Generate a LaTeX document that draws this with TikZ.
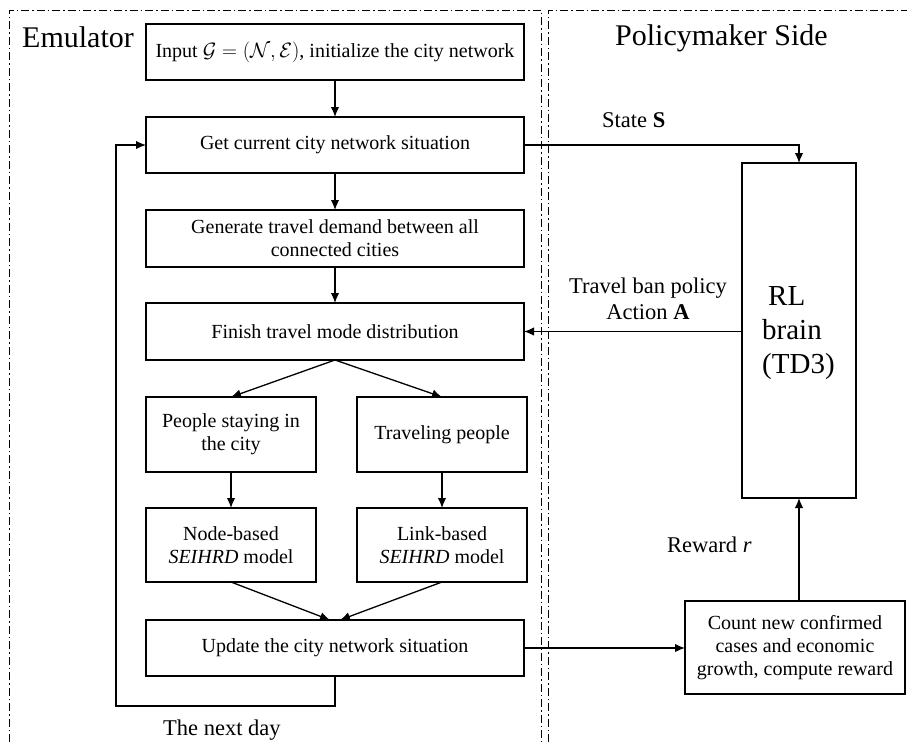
\documentclass[tikz,border=0pt]{standalone}
\usepackage{fontspec}
\setmainfont{Liberation Serif}
\usetikzlibrary{arrows.meta}
\begin{document}
\begin{tikzpicture}[x=1pt,y=-1pt,
  box/.style={draw, line width=1.3pt, align=center, inner sep=0pt, outer sep=0pt, font=\fontsize{20}{23}\selectfont},
  arr/.style={line width=1.3pt, -{Latex[length=10pt,width=8.5pt]}},
  border/.style={line width=1pt, dash pattern=on 8pt off 3pt on 1.5pt off 3pt},
  lbl/.style={font=\fontsize{22.5}{26}\selectfont, inner sep=0pt, anchor=base west},
  title/.style={font=\fontsize{30}{34}\selectfont, inner sep=0pt, anchor=base west}]
\useasboundingbox (0,0) rectangle (907,742);
% region borders
\draw[border] (9,742) -- (9,10) -- (541,10) -- (541,742);
\draw[border] (548,742) -- (548,10) -- (907,10);
% titles
\node[title] (emu) at (22,47) {Emulator};
\node[title] (pol) at (615,45) {Policymaker Side};
% boxes
\node[box, minimum width=378pt, minimum height=56pt] (input) at (335,52) {Input $\mathcal{G}=(\mathcal{N},\mathcal{E})$, initialize the city network};
\node[box, minimum width=378pt, minimum height=56pt] (get) at (335,145) {Get current city network situation};
\node[box, minimum width=378pt, minimum height=57pt] (gen) at (335,238.5) {Generate travel demand between all\\connected cities};
\node[box, minimum width=378pt, minimum height=57pt] (finish) at (335,331.5) {Finish travel mode distribution};
\node[box, minimum width=170pt, minimum height=75pt] (stay) at (231,434.5) {People staying in\\the city};
\node[box, minimum width=170pt, minimum height=75pt] (travel) at (442,434.5) {Traveling people};
\node[box, minimum width=170pt, minimum height=74pt] (nodeb) at (231,545) {Node-based\\\textit{SEIHRD} model};
\node[box, minimum width=170pt, minimum height=74pt] (linkb) at (442,545) {Link-based\\\textit{SEIHRD} model};
\node[box, minimum width=378pt, minimum height=56pt] (update) at (335,648) {Update the city network situation};
\node[box, minimum width=114pt, minimum height=335pt] (rl) at (799,330.5) {};
\node[title, font=\fontsize{29}{34}\selectfont, align=left, anchor=north west] (rltxt) at (762,286) {\hspace*{6pt}RL\\brain\\(TD3)};
\node[box, minimum width=220pt, minimum height=93pt] (count) at (795,647.5) {Count new confirmed\\cases and economic\\growth, compute reward};
% labels
\node[lbl] (state) at (602,127) {State \textbf{S}};
\node[lbl, anchor=center, align=center] (act) at (648,299) {Travel ban policy\\Action \textbf{A}};
\node[lbl] (rew) at (667,552) {Reward \textit{r}};
\node[lbl] (next) at (163,735) {The next day};
% connectors
\draw[arr] (input) -- (get);
\draw[arr] (get) -- (gen);
\draw[arr] (gen) -- (finish);
\draw[arr] (finish.south) -- (stay.north);
\draw[arr] (finish.south) -- (travel.north);
\draw[arr] (stay) -- (nodeb);
\draw[arr] (travel) -- (linkb);
\draw[arr] (nodeb.south) -- ([xshift=-5pt]update.north);
\draw[arr] (linkb.south) -- ([xshift=5pt]update.north);
\coordinate (loopc) at (116,706);
\draw[arr] (update.south) |- (loopc) |- (get.west);
\draw[arr] (get.east) -| (rl.north);
\draw[arr] (rl.west |- finish.east) -- (finish.east);
\draw[arr] (update.east) -- (count.west |- update.east);
\draw[arr] (rl.south |- count.north) -- (rl.south);
\end{tikzpicture}
\end{document}
